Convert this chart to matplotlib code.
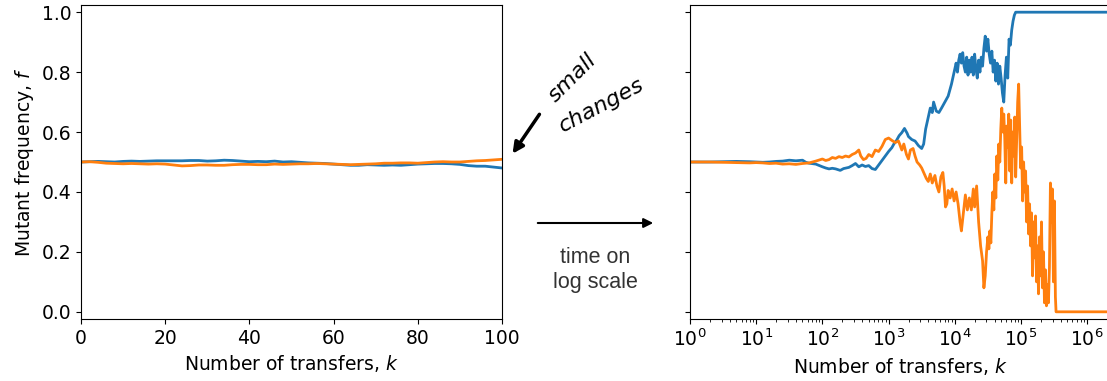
import numpy as np
import matplotlib
matplotlib.use("Agg")
import matplotlib.pyplot as plt

# left panel: linear time, k = 0..100
k_lin = np.arange(0, 101, 2)
blue_lin = [0.500, 0.501, 0.502, 0.501, 0.500, 0.502, 0.503, 0.502, 0.503, 0.504,
            0.504, 0.504, 0.504, 0.505, 0.505, 0.503, 0.504, 0.506, 0.505, 0.503,
            0.501, 0.502, 0.501, 0.503, 0.500, 0.501, 0.499, 0.497, 0.496, 0.495,
            0.493, 0.491, 0.489, 0.489, 0.491, 0.490, 0.489, 0.490, 0.489, 0.491,
            0.493, 0.494, 0.495, 0.495, 0.494, 0.492, 0.488, 0.486, 0.486, 0.483,
            0.480]
orange_lin = [0.500, 0.501, 0.499, 0.496, 0.495, 0.494, 0.495, 0.494, 0.493, 0.494,
              0.493, 0.490, 0.487, 0.488, 0.490, 0.490, 0.489, 0.489, 0.491, 0.492,
              0.492, 0.491, 0.491, 0.493, 0.492, 0.493, 0.494, 0.494, 0.495, 0.494,
              0.493, 0.492, 0.491, 0.492, 0.493, 0.494, 0.496, 0.496, 0.497, 0.497,
              0.496, 0.498, 0.500, 0.501, 0.500, 0.500, 0.502, 0.504, 0.505, 0.507,
              0.509]

# right panel: log time, given as log10(k)
blue_exp = [0, 0.3, 0.5, 0.7, 0.9, 1.0, 1.1, 1.2, 1.3, 1.4, 1.5, 1.6, 1.7, 1.75, 1.8,
            1.9, 2.0, 2.05, 2.1, 2.15, 2.2, 2.27, 2.32, 2.4, 2.45, 2.5, 2.55, 2.6,
            2.65, 2.7, 2.75, 2.8, 2.85, 2.9, 2.95, 3.0, 3.05, 3.08, 3.12, 3.16, 3.2,
            3.24, 3.28, 3.3, 3.35, 3.4, 3.45, 3.5, 3.53, 3.56, 3.6, 3.63, 3.66, 3.68,
            3.72, 3.76, 3.8, 3.85, 3.9, 3.95,
            4.00, 4.02, 4.04, 4.06, 4.08, 4.10, 4.12, 4.14, 4.16, 4.18, 4.20, 4.22,
            4.24, 4.26, 4.28, 4.30, 4.32, 4.34, 4.36, 4.38, 4.40, 4.42, 4.44, 4.46,
            4.48, 4.50, 4.52, 4.54, 4.56, 4.58, 4.60, 4.62, 4.64, 4.66, 4.68, 4.70,
            4.72, 4.74, 4.76, 4.78, 4.80, 4.82, 4.84, 4.86, 4.88, 4.90, 4.92, 6.4]
blue_log = [0.500, 0.500, 0.501, 0.502, 0.501, 0.500, 0.499, 0.500, 0.502, 0.503,
            0.506, 0.504, 0.506, 0.499, 0.496, 0.493, 0.484, 0.480, 0.477, 0.479,
            0.477, 0.472, 0.478, 0.482, 0.488, 0.495, 0.484, 0.490, 0.485, 0.488,
            0.478, 0.475, 0.490, 0.505, 0.520, 0.535, 0.548, 0.560, 0.572, 0.588,
            0.598, 0.612, 0.596, 0.585, 0.575, 0.570, 0.555, 0.545, 0.560, 0.610,
            0.650, 0.680, 0.665, 0.700, 0.670, 0.665, 0.680, 0.700, 0.720, 0.760,
            0.81, 0.83, 0.80, 0.84, 0.86, 0.83, 0.865, 0.82, 0.80, 0.85, 0.79, 0.84,
            0.80, 0.85, 0.79, 0.86, 0.81, 0.78, 0.84, 0.80, 0.85, 0.82, 0.88, 0.92,
            0.87, 0.91, 0.86, 0.83, 0.87, 0.80, 0.84, 0.77, 0.83, 0.76, 0.82, 0.78,
            0.73, 0.70, 0.79, 0.85, 0.78, 0.91, 0.89, 0.94, 0.97, 0.99, 1.00, 1.00]

orange_exp = [0, 0.3, 0.5, 0.7, 0.9, 1.0, 1.1, 1.2, 1.3, 1.4, 1.5, 1.6, 1.7, 1.8, 1.9,
              2.0, 2.05, 2.1, 2.15, 2.2, 2.25, 2.3, 2.35, 2.4, 2.45, 2.5, 2.55, 2.58,
              2.62, 2.66, 2.7, 2.75, 2.8, 2.85, 2.9, 2.95, 3.0, 3.05, 3.1, 3.15, 3.2,
              3.23, 3.27, 3.3, 3.33, 3.37, 3.4, 3.43, 3.47, 3.5, 3.53, 3.57, 3.6, 3.63,
              3.66, 3.7, 3.73, 3.76, 3.79, 3.82, 3.84, 3.86, 3.88, 3.9, 3.93, 3.96,
              3.99, 4.02, 4.05, 4.08, 4.1, 4.13, 4.16, 4.19, 4.22, 4.25, 4.28, 4.3,
              4.33, 4.36, 4.39, 4.42, 4.44, 4.46, 4.48,
              4.500, 4.515, 4.530, 4.545, 4.560, 4.575, 4.590, 4.605, 4.620, 4.635,
              4.650, 4.665, 4.680, 4.695, 4.710, 4.725, 4.740, 4.755, 4.770, 4.785,
              4.800, 4.815, 4.830, 4.845, 4.860, 4.875, 4.890, 4.905, 4.920, 4.935,
              4.950, 4.965, 4.980, 4.995, 5.010, 5.025, 5.040, 5.055, 5.070, 5.085,
              5.100, 5.115, 5.130, 5.145, 5.160, 5.175, 5.190, 5.205, 5.220, 5.235,
              5.250, 5.265, 5.280, 5.295, 5.310, 5.325, 5.340, 5.355, 5.370, 5.385,
              5.400, 5.415, 5.430, 5.445, 5.460, 5.475, 5.490, 5.505, 5.520, 5.530,
              6.4]
orange_log = [0.500, 0.500, 0.499, 0.498, 0.497, 0.498, 0.497, 0.495, 0.496, 0.493,
              0.494, 0.492, 0.495, 0.497, 0.503, 0.510, 0.505, 0.508, 0.515, 0.512,
              0.518, 0.515, 0.520, 0.517, 0.525, 0.530, 0.540, 0.520, 0.508, 0.512,
              0.525, 0.518, 0.540, 0.535, 0.552, 0.575, 0.580, 0.572, 0.565, 0.570,
              0.540, 0.560, 0.525, 0.510, 0.540, 0.545, 0.520, 0.500, 0.490, 0.480,
              0.465, 0.445, 0.435, 0.460, 0.430, 0.455, 0.420, 0.400, 0.450, 0.465,
              0.420, 0.350, 0.360, 0.405, 0.380, 0.410, 0.370, 0.400, 0.360, 0.300,
              0.270, 0.330, 0.390, 0.340, 0.380, 0.340, 0.410, 0.350, 0.420, 0.300,
              0.220, 0.170, 0.080, 0.120, 0.200,
              0.25, 0.21, 0.27, 0.23, 0.33, 0.40, 0.34, 0.46, 0.38, 0.52,
              0.44, 0.56, 0.50, 0.61, 0.68, 0.60, 0.66, 0.58, 0.43, 0.62,
              0.55, 0.66, 0.47, 0.64, 0.43, 0.60, 0.52, 0.65, 0.45, 0.58,
              0.70, 0.76, 0.62, 0.48, 0.55, 0.37, 0.50, 0.40, 0.47, 0.30,
              0.42, 0.26, 0.36, 0.22, 0.33, 0.12, 0.30, 0.18, 0.32, 0.10,
              0.22, 0.06, 0.25, 0.12, 0.30, 0.08, 0.20, 0.03, 0.14, 0.02,
              0.09, 0.03, 0.15, 0.43, 0.30, 0.41, 0.10, 0.37, 0.05, 0.00,
              0.00]

blue = "#1f77b4"
orange = "#ff7f0e"

plt.rcParams["font.size"] = 13.5

fig = plt.figure(figsize=(11.07, 3.81), dpi=100)
ax1 = fig.add_axes([81 / 1107, 62 / 381, 421 / 1107, 314 / 381])
ax2 = fig.add_axes([690 / 1107, 62 / 381, 421 / 1107, 314 / 381], sharey=ax1)

ax1.plot(k_lin, blue_lin, color=blue, lw=2)
ax1.plot(k_lin, orange_lin, color=orange, lw=2)
ax1.set_xlim(0, 100)
ax1.set_ylim(-0.024, 1.024)
ax1.set_xticks(np.arange(0, 101, 20))
ax1.set_yticks(np.arange(0, 1.01, 0.2))
ax1.set_xlabel("Number of transfers, $k$")
ax1.set_ylabel("Mutant frequency, $f$")

ax2.plot(10 ** np.array(blue_exp), blue_log, color=blue, lw=2)
ax2.plot(10 ** np.array(orange_exp), orange_log, color=orange, lw=2)
ax2.set_xscale("log")
ax2.set_xlim(1, 10 ** 6.36)
ax2.set_xlabel("Number of transfers, $k$")
ax2.tick_params(labelleft=False)

# annotations between the panels
fig.text(572 / 1107, 1 - 78 / 381, "small", fontsize=16, style="italic",
         rotation=45, ha="center", va="center")
fig.text(602 / 1107, 1 - 105 / 381, "changes", fontsize=16, style="italic",
         rotation=28, ha="center", va="center")
fig.add_artist(matplotlib.patches.FancyArrowPatch(
    (541 / 1107, 1 - 112 / 381), (511 / 1107, 1 - 156 / 381),
    transform=fig.transFigure, arrowstyle="-|>", mutation_scale=16,
    lw=2.5, color="black"))

fig.add_artist(matplotlib.patches.FancyArrowPatch(
    (535 / 1107, 1 - 223 / 381), (656 / 1107, 1 - 223 / 381),
    transform=fig.transFigure, arrowstyle="-|>", mutation_scale=14,
    lw=1.5, color="black"))
fig.text(595 / 1107, 1 - 270 / 381, "time on\nlog scale", fontsize=15.5,
         family="Liberation Sans", color="#333333", ha="center", va="center",
         linespacing=1.3)

fig.savefig("out.png", dpi=100)
